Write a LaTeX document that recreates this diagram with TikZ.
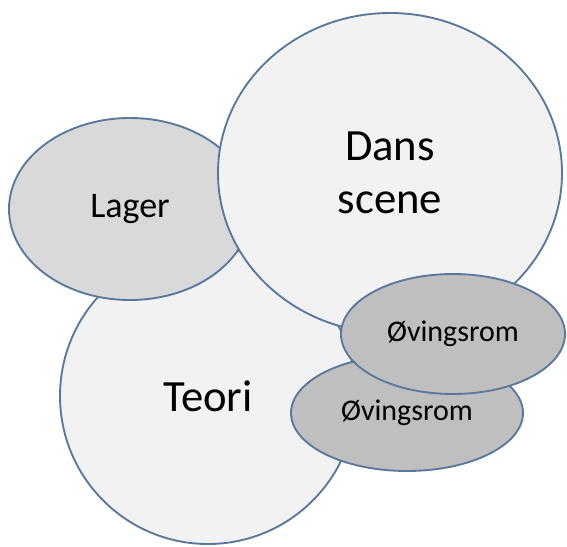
\documentclass[tikz,border=0pt]{standalone}
\usepackage{fontspec}
\setmainfont{Carlito}
\usepackage{tikz}
\usetikzlibrary{shapes.geometric, positioning}

\definecolor{rimblue}{HTML}{5A779C}
\definecolor{paleroom}{HTML}{F2F2F2}
\definecolor{midroom}{HTML}{D9D9D9}
\definecolor{darkroom}{HTML}{BFBFBF}

\begin{document}
\begin{tikzpicture}[x=0.75pt, y=-0.75pt,
    room/.style={ellipse, draw=rimblue, line width=1.4pt, inner sep=0pt, align=center},
    bigroom/.style={room, fill=paleroom, font=\fontsize{33.5}{40}\selectfont},
    store/.style={room, fill=midroom, font=\fontsize{27}{30}\selectfont},
    practice/.style={room, fill=darkroom, font=\fontsize{22.5}{27}\selectfont}]
% Frame of the picture
\useasboundingbox (0,0) rectangle (567,546);

% Rooms, back to front
\node[bigroom, minimum width=222pt, minimum height=222pt] (teori) at (208,396) {Teori};
\node[store, minimum width=181.5pt, minimum height=136.5pt] (lager) at (130,209) {Lager};
\node[bigroom, minimum width=258pt, minimum height=240pt] (scene) at (390,173) {Dans\\scene};
\node[practice, minimum width=174pt, minimum height=87pt] (ovlow) at (407,413) {Øvingsrom};
\node[practice, minimum width=168pt, minimum height=90pt] (ovhigh) at (453,334) {Øvingsrom};
\end{tikzpicture}
\end{document}
